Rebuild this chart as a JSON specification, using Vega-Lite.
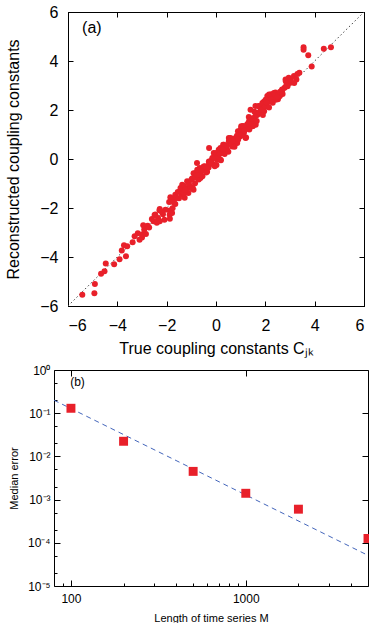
{
  "$schema": "https://vega.github.io/schema/vega-lite/v6.json",
  "padding": {"left": 5, "top": 3, "right": 0, "bottom": 0},
  "background": "white",
  "config": {
    "font": "Liberation Sans",
    "view": {"stroke": "black", "strokeWidth": 1},
    "axis": {"domainColor": "black", "tickColor": "black", "labelColor": "black", "titleColor": "black", "grid": false, "labelFont": "Liberation Sans", "titleFont": "Liberation Sans", "titleFontWeight": "normal"}
  },
  "datasets": {
    "scatter": [
      {"x":-5.42,"y":-5.54},{"x":-4.93,"y":-5.48},{"x":-4.91,"y":-5.10},{"x":-4.66,"y":-4.68},{"x":-4.52,"y":-4.58},{"x":-4.47,"y":-4.27},{"x":-4.13,"y":-4.30},{"x":-3.91,"y":-4.09},{"x":-3.65,"y":-3.97},{"x":-3.82,"y":-3.73},{"x":-3.73,"y":-3.52},{"x":-3.60,"y":-3.56},{"x":-3.38,"y":-3.40},{"x":-3.17,"y":-3.03},{"x":-3.00,"y":-3.20},{"x":-2.98,"y":-3.07},{"x":-2.84,"y":-3.06},{"x":-2.91,"y":-2.88},{"x":-2.77,"y":-2.72},{"x":-2.71,"y":-2.80},{"x":-2.53,"y":-2.54},{"x":-2.49,"y":-2.29},{"x":-2.35,"y":-2.41},{"x":-2.28,"y":-2.54},{"x":-2.15,"y":-2.26},{"x":-2.29,"y":-2.09},{"x":-2.09,"y":-2.48},{"x":-1.88,"y":-2.28},{"x":-1.87,"y":-2.44},{"x":-1.88,"y":-2.10},{"x":-2.28,"y":-2.04},{"x":-1.85,"y":-1.56},{"x":-1.73,"y":-1.66},{"x":-1.65,"y":-1.84},{"x":-1.60,"y":-1.59},{"x":-1.76,"y":-2.01},{"x":-1.40,"y":-1.46},{"x":-1.35,"y":-1.33},{"x":-1.27,"y":-1.58},{"x":-1.20,"y":-1.19},{"x":-1.12,"y":-1.39},{"x":-1.05,"y":-1.13},{"x":-0.91,"y":-1.25},{"x":-0.85,"y":-0.99},{"x":-0.91,"y":-0.58},{"x":-0.75,"y":-0.52},{"x":-0.63,"y":-0.78},{"x":-0.66,"y":-0.37},{"x":-0.77,"y":-0.16},{"x":-0.50,"y":-0.31},{"x":-0.36,"y":-0.52},{"x":-0.28,"y":0.45},{"x":-0.29,"y":-0.10},{"x":-0.16,"y":-0.03},{"x":-0.09,"y":0.24},{"x":0.02,"y":-0.24},{"x":0.04,"y":0.17},{"x":0.18,"y":-0.03},{"x":0.11,"y":0.38},{"x":0.29,"y":0.58},{"x":0.35,"y":0.31},{"x":0.45,"y":0.38},{"x":0.52,"y":0.86},{"x":0.59,"y":0.72},{"x":0.72,"y":0.58},{"x":0.79,"y":0.86},{"x":0.89,"y":1.13},{"x":0.99,"y":0.93},{"x":1.02,"y":1.34},{"x":1.10,"y":1.20},{"x":1.20,"y":0.86},{"x":1.26,"y":1.41},{"x":1.33,"y":1.71},{"x":1.40,"y":1.55},{"x":1.47,"y":1.34},{"x":1.56,"y":1.93},{"x":1.60,"y":2.16},{"x":1.74,"y":2.16},{"x":1.78,"y":1.89},{"x":1.87,"y":2.10},{"x":1.94,"y":2.34},{"x":2.08,"y":2.57},{"x":2.14,"y":2.37},{"x":2.24,"y":2.64},{"x":2.35,"y":2.50},{"x":2.41,"y":2.71},{"x":2.51,"y":2.44},{"x":2.59,"y":2.57},{"x":2.68,"y":2.84},{"x":2.78,"y":2.91},{"x":2.82,"y":3.25},{"x":2.95,"y":3.32},{"x":3.02,"y":3.11},{"x":3.16,"y":3.39},{"x":3.26,"y":3.25},{"x":3.38,"y":3.52},{"x":3.55,"y":4.56},{"x":3.55,"y":4.46},{"x":3.74,"y":4.23},{"x":3.88,"y":3.78},{"x":4.37,"y":4.50},{"x":4.66,"y":4.56},
      {"x":-2.46,"y":-2.27},{"x":-2.05,"y":-2.07},{"x":-1.83,"y":-1.62},{"x":-1.78,"y":-2.20},{"x":-1.65,"y":-1.46},{"x":-1.44,"y":-1.18},{"x":-1.31,"y":-1.39},{"x":-1.37,"y":-1.05},{"x":-1.17,"y":-0.91},{"x":-1.04,"y":-1.18},{"x":-0.97,"y":-0.80},{"x":-0.83,"y":-0.57},{"x":-0.76,"y":-0.44},{"x":-0.70,"y":-0.84},{"x":-0.63,"y":-0.64},{"x":-0.43,"y":-0.37},{"x":-0.29,"y":-0.23},{"x":-0.22,"y":-0.09},{"x":-0.15,"y":0.04},{"x":-0.09,"y":-0.23},{"x":-0.02,"y":0.18},{"x":0.05,"y":-0.03},{"x":0.12,"y":0.31},{"x":0.18,"y":0.45},{"x":0.25,"y":0.25},{"x":0.32,"y":0.58},{"x":0.39,"y":0.38},{"x":0.52,"y":0.72},{"x":0.59,"y":0.86},{"x":0.66,"y":0.51},{"x":0.79,"y":0.79},{"x":0.86,"y":0.65},{"x":0.93,"y":0.99},{"x":1.00,"y":1.20},{"x":1.07,"y":1.33},{"x":1.13,"y":1.06},{"x":1.22,"y":0.88},{"x":1.27,"y":1.27},{"x":1.34,"y":1.54},{"x":1.40,"y":2.01},{"x":1.47,"y":1.47},{"x":1.54,"y":1.67},{"x":1.61,"y":1.40},{"x":1.68,"y":1.81},{"x":1.74,"y":2.15},{"x":1.81,"y":2.01},{"x":1.88,"y":2.29},{"x":1.95,"y":1.95},{"x":2.01,"y":2.42},{"x":2.08,"y":2.15},{"x":2.15,"y":2.63},{"x":2.22,"y":2.36},{"x":2.28,"y":2.56},{"x":2.35,"y":2.69},{"x":2.42,"y":2.42},{"x":2.56,"y":2.56},{"x":2.69,"y":2.83},{"x":2.83,"y":3.17},{"x":2.90,"y":2.97},{"x":3.03,"y":3.24},{"x":3.17,"y":3.10},{"x":3.30,"y":3.47},
      {"x":-1.9,"y":-1.75},{"x":-1.7,"y":-1.8},{"x":-1.55,"y":-1.35},{"x":-1.5,"y":-1.6},{"x":-1.3,"y":-1.1},{"x":-1.25,"y":-1.25},{"x":-1.1,"y":-1.0},{"x":-1.0,"y":-0.85},{"x":-0.95,"y":-1.15},{"x":-0.85,"y":-0.75},{"x":-0.75,"y":-0.65},{"x":-0.6,"y":-0.5},{"x":-0.55,"y":-0.7},{"x":-0.45,"y":-0.3},{"x":-0.4,"y":-0.55},{"x":-0.3,"y":-0.35},{"x":-0.2,"y":-0.15},{"x":-0.1,"y":0.05},{"x":-0.05,"y":-0.3},{"x":0.0,"y":0.25},{"x":0.08,"y":0.1},{"x":0.15,"y":0.2},{"x":0.2,"y":-0.05},{"x":0.3,"y":0.4},{"x":0.35,"y":0.2},{"x":0.45,"y":0.55},{"x":0.5,"y":0.3},{"x":0.6,"y":0.7},{"x":0.7,"y":0.75},{"x":0.75,"y":0.5},{"x":0.85,"y":0.95},{"x":0.9,"y":0.8},{"x":1.05,"y":1.0},{"x":1.1,"y":1.35},{"x":1.15,"y":1.15},{"x":1.3,"y":1.45},{"x":1.35,"y":1.2},{"x":1.45,"y":1.65},{"x":1.5,"y":1.35},{"x":1.6,"y":1.75},{"x":1.65,"y":1.55},{"x":1.75,"y":1.9},{"x":1.85,"y":2.0},{"x":1.9,"y":1.8},{"x":2.0,"y":2.15},{"x":2.05,"y":2.3},{"x":2.15,"y":2.1},{"x":2.25,"y":2.45},{"x":2.3,"y":2.3},{"x":2.4,"y":2.6},{"x":2.5,"y":2.55},{"x":2.6,"y":2.75},{"x":2.7,"y":2.65},{"x":2.85,"y":3.0},{"x":-2.6,"y":-2.45},{"x":-2.4,"y":-2.6},{"x":-2.2,"y":-2.15},{"x":-3.3,"y":-3.15},{"x":-3.1,"y":-3.3},{"x":-2.95,"y":-2.7}
    ]
  },
  "vconcat": [
    {
      "width": 296,
      "height": 294,
      "layer": [
        {
          "data": {"values": [{"x": -6, "y": -6}, {"x": 6, "y": 6}]},
          "mark": {"type": "line", "color": "#444444", "strokeWidth": 1, "strokeDash": [1.5, 2.5]},
          "encoding": {
            "x": {"field": "x", "type": "quantitative", "scale": {"domain": [-6, 6], "nice": false},
              "axis": {"orient": "bottom", "values": [-6, -4, -2, 0, 2, 4, 6], "tickSize": -5, "labelFontSize": 16, "labelPadding": 16, "title": "True coupling constants Cⱼₖ", "titleFontSize": 16, "titlePadding": 7}},
            "y": {"field": "y", "type": "quantitative", "scale": {"domain": [-6, 6], "nice": false},
              "axis": {"orient": "left", "values": [-6, -4, -2, 0, 2, 4, 6], "tickSize": -5, "labelFontSize": 16, "labelPadding": 15, "title": "Reconstructed coupling constants", "titleFontSize": 16, "titlePadding": 18}}
          }
        },
        {
          "data": {"name": "scatter"},
          "mark": {"type": "circle", "color": "#e8202a", "opacity": 1, "size": 36},
          "encoding": {
            "x": {"field": "x", "type": "quantitative", "axis": {"orient": "top", "values": [-6, -4, -2, 0, 2, 4, 6], "tickSize": -5, "labels": false, "title": null}},
            "y": {"field": "y", "type": "quantitative", "axis": {"orient": "right", "values": [-6, -4, -2, 0, 2, 4, 6], "tickSize": -5, "labels": false, "title": null}}
          }
        },
        {
          "data": {"values": [{"x": -5.43, "y": 5.35, "t": "(a)"}]},
          "mark": {"type": "text", "align": "left", "baseline": "middle", "fontSize": 16, "color": "black"},
          "encoding": {
            "x": {"field": "x", "type": "quantitative", "axis": null},
            "y": {"field": "y", "type": "quantitative", "axis": null},
            "text": {"field": "t"}
          }
        }
      ],
      "resolve": {"axis": {"x": "independent", "y": "independent"}}
    },
    {
      "width": 300,
      "height": 216,
      "view": {"stroke": null},
      "layer": [
        {
          "data": {"values": [{"M": 80, "err": 0.2}, {"M": 5000, "err": 0.0000512}]},
          "mark": {"type": "line", "color": "#4466bb", "strokeWidth": 1, "strokeDash": [5, 4]},
          "encoding": {
            "x": {"field": "M", "type": "quantitative", "scale": {"type": "log", "domain": [80, 5000], "range": [-14, 300], "nice": false},
              "axis": {"orient": "bottom", "values": [100, 1000], "format": "d", "tickSize": -6, "labelFontSize": 12, "labelPadding": 13, "title": "Length of time series M", "titleFontSize": 11, "titlePadding": 8}},
            "y": {"field": "err", "type": "quantitative", "scale": {"type": "log", "domain": [0.00001, 1], "nice": false},
              "axis": {"orient": "left", "offset": 14, "values": [1, 0.1, 0.01, 0.001, 0.0001, 0.00001], "tickSize": -6, "labelFontSize": 12, "labelPadding": 10,
                "labelExpr": "datum.value > 0.5 ? '10⁰' : datum.value > 0.05 ? '10⁻¹' : datum.value > 0.005 ? '10⁻²' : datum.value > 0.0005 ? '10⁻³' : datum.value > 0.00005 ? '10⁻⁴' : '10⁻⁵'",
                "title": "Median  error", "titleFontSize": 11, "titlePadding": 8}}
          }
        },
        {
          "data": {"values": [{"M": 100, "err": 0.13}, {"M": 200, "err": 0.0224}, {"M": 500, "err": 0.0045}, {"M": 1000, "err": 0.0014}, {"M": 2000, "err": 0.0006}, {"M": 5000, "err": 0.000126}]},
          "mark": {"type": "square", "color": "#e8202a", "opacity": 1, "size": 80},
          "encoding": {
            "x": {"field": "M", "type": "quantitative", "axis": {"orient": "bottom", "values": [90, 200, 300, 400, 500, 600, 700, 800, 900, 2000, 3000, 4000], "tickSize": -3, "labels": false, "domain": false, "title": null}},
            "y": {"field": "err", "type": "quantitative", "axis": {"orient": "left", "offset": 14, "values": [0.5, 0.2, 0.05, 0.02, 0.005, 0.002, 0.0005, 0.0002, 0.00005, 0.00002], "tickSize": -3, "labels": false, "domain": false, "title": null}}
          }
        },
        {
          "data": {"values": [{"M": 99, "err": 0.52, "t": "(b)"}]},
          "mark": {"type": "text", "align": "left", "baseline": "middle", "fontSize": 12, "color": "black"},
          "encoding": {
            "x": {"field": "M", "type": "quantitative", "axis": {"orient": "top", "values": [100, 1000], "tickSize": -6, "labels": false, "title": null}},
            "y": {"field": "err", "type": "quantitative", "axis": {"orient": "right", "values": [1, 0.1, 0.01, 0.001, 0.0001, 0.00001], "tickSize": -6, "labels": false, "title": null}},
            "text": {"field": "t"}
          }
        }
      ],
      "resolve": {"axis": {"x": "independent", "y": "independent"}}
    }
  ],
  "spacing": 7
}
